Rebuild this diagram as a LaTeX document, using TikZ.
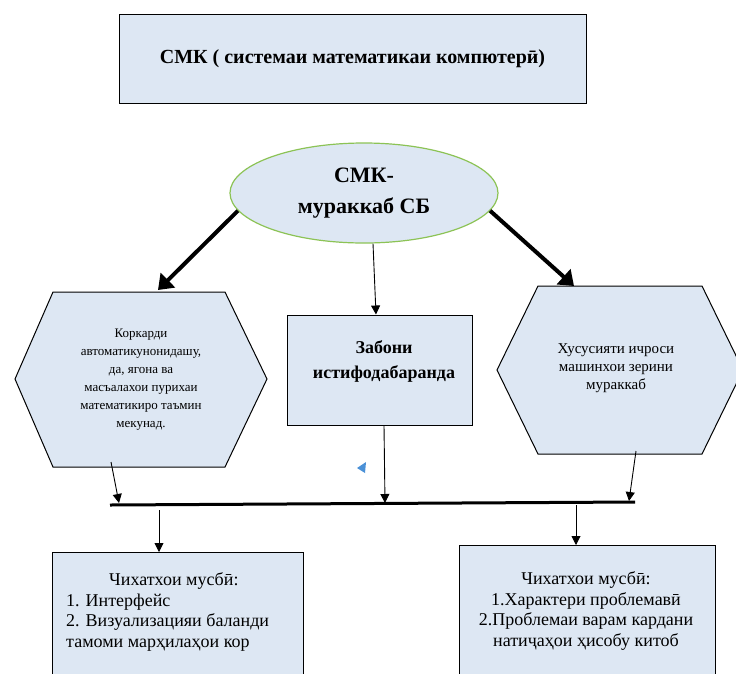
\documentclass[tikz,border=0pt]{standalone}
\usepackage{fontspec}
\setmainfont{Liberation Serif}
\usetikzlibrary{shapes.geometric,arrows.meta}
\definecolor{boxfill}{RGB}{221,231,243}
\definecolor{ellline}{RGB}{140,195,85}
\definecolor{tricol}{RGB}{75,145,215}
\tikzset{
  box/.style={draw=black, line width=1pt, fill=boxfill},
  thinarr/.style={draw=black, line width=0.9pt, -{Triangle[length=9pt,width=9pt]}},
  thickarr/.style={draw=black, line width=4pt, -{Triangle[length=14pt,width=20pt]}},
  txt/.style={inner sep=0pt, align=center},
}
\begin{document}
\begin{tikzpicture}[x=1pt,y=-1pt]
\useasboundingbox (0,0) rectangle (736,673);
\clip (0,0) rectangle (736,673);
% title
\node[box, minimum width=467pt, minimum height=89pt, font=\bfseries\fontsize{20}{24}\selectfont] (title) at (352.5,58.5) {СМК ( системаи математикаи компютерӣ)};
% ellipse
\node[ellipse, draw=ellline, line width=1.2pt, fill=boxfill, minimum width=268pt, minimum height=100pt, align=center, font=\bfseries\fontsize{22}{31}\selectfont] (ell) at (364,193) {СМК-\\мураккаб СБ};
% left hexagon
\draw[box] (53,292) -- (225,292) -- (267,379) -- (225,467) -- (53,467) -- (15,379) -- cycle;
\node[txt, font=\fontsize{13}{18}\selectfont] (hexLt) at (141,380) {Коркарди\\автоматикунонидашу,\\да, ягона ва\\масъалахои пурихаи\\математикиро таъмин\\мекунад.};
\coordinate (hexLtop) at (158,290);
\coordinate (hexLb) at (111,462);
% middle box
\node[box, minimum width=185pt, minimum height=110pt] (mid) at (379.5,370) {};
\node[txt, font=\bfseries\fontsize{18}{25}\selectfont] (midt) at (384,361) {Забони\\истифодабаранда};
% right hexagon
\draw[box] (538,286) -- (702,286) -- (743,370) -- (702,454) -- (538,454) -- (497,370) -- cycle;
\node[txt, font=\fontsize{15}{18}\selectfont] (hexRt) at (616,368) {Хусусияти ичроси\\машинхои зерини\\мураккаб};
\coordinate (hexRtop) at (574,286);
\coordinate (hexRb) at (636,451);
% bar
\coordinate (barL) at (110,505);
\coordinate (barR) at (635,502);
\draw[line width=3pt] (barL) -- (barR);
\coordinate (barA) at (119,503);
\coordinate (barB) at (385,503);
\coordinate (barC) at (629,501);
\coordinate (barD) at (159,510);
\coordinate (barE) at (576,505);
% arrows
\draw[thickarr] (ell.188) -- (hexLtop);
\draw[thickarr] (ell.-8) -- (hexRtop);
\draw[thinarr] ([xshift=9pt]ell.south) -- ([xshift=-3.5pt]mid.north);
\draw[thinarr] (hexLb) -- (barA);
\draw[thinarr] ([xshift=4.5pt]mid.south) -- (barB);
\draw[thinarr] (hexRb) -- (barC);
% small blue marker
\fill[tricol] (357,468) -- (366,462) -- (365,473) -- cycle;
% bottom boxes
\node[box, anchor=north west, minimum width=251pt, minimum height=150pt] (outL) at (52,552) {};
\node[box, anchor=north west, minimum width=256pt, minimum height=150pt] (outR) at (459,545) {};
\draw[thinarr] (barD) -- (barD |- outL.north);
\draw[thinarr] (barE) -- (barE |- outR.north);
\node[inner sep=0pt, align=left, anchor=west, font=\fontsize{18}{20.5}\selectfont] (outLt) at (66,612) {\hspace*{43pt}Чихатхои мусбӣ:\\1. Интерфейс\\2. Визуализацияи баланди\\тамоми марҳилаҳои кор};
\node[txt, font=\fontsize{18}{20.5}\selectfont] (outRt) at (586,611) {Чихатхои мусбӣ:\\1.Характери проблемавӣ\\2.Проблемаи варам кардани\\натиҷаҳои ҳисобу китоб};
\end{tikzpicture}
\end{document}
